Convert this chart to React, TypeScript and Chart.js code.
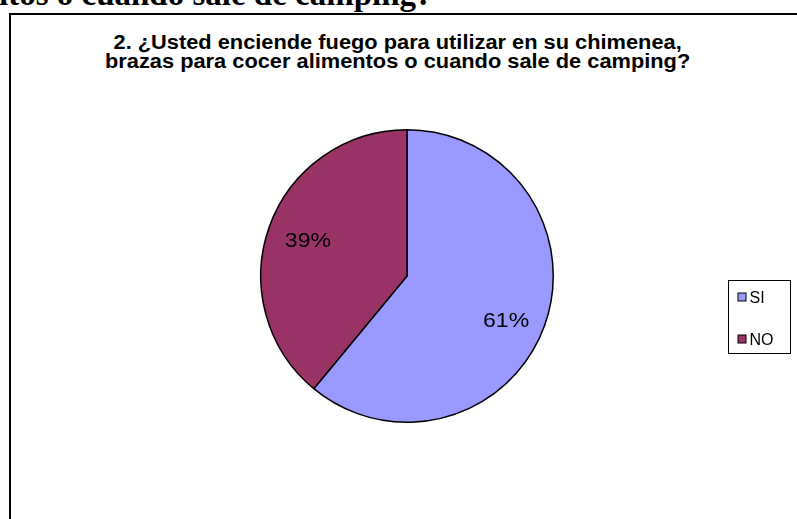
import React, { useEffect, useRef } from "react";
import { Chart, registerables } from "chart.js";

Chart.register(...registerables);

const categories = ["SI", "NO"];
const values = [61, 39];
const percentLabels = ["61%", "39%"];
const sliceColors = ["#9999FF", "#993366"];
const titleLines = [
  "2. ¿Usted enciende fuego para utilizar en su chimenea,",
  "brazas para cocer alimentos o cuando sale de camping?",
];
const headingText = "itos o cuando sale de camping?";

const pctPlugin = {
  id: "pctLabels",
  afterDatasetsDraw(chart: any) {
    const ctx = chart.ctx;
    const meta = chart.getDatasetMeta(0);
    ctx.save();
    ctx.font = "21px 'Liberation Sans', Arial, sans-serif";
    ctx.fillStyle = "#000";
    ctx.textAlign = "center";
    ctx.textBaseline = "middle";
    meta.data.forEach((arc: any, i: number) => {
      const p = arc.getProps(["x", "y", "startAngle", "endAngle", "outerRadius"], true);
      const mid = (p.startAngle + p.endAngle) / 2;
      const r = p.outerRadius * 0.72;
      const lx = p.x + Math.cos(mid) * r;
      const ly = p.y + Math.sin(mid) * r + (Math.sin(mid) > 0 ? 10 : 1);
      ctx.save();
      ctx.translate(lx, ly);
      ctx.scale(1.1, 1);
      ctx.fillText(percentLabels[i], 0, 0);
      ctx.restore();
    });
    ctx.restore();
  },
};

const legendPlugin = {
  id: "boxLegend",
  afterDraw(chart: any) {
    const ctx = chart.ctx;
    const ds = chart.data.datasets[0];
    const left = 728.5;
    const top = 280.5;
    const w = 62;
    const h = 73;
    ctx.save();
    ctx.fillStyle = "#fff";
    ctx.fillRect(left, top, w, h);
    ctx.strokeStyle = "#000";
    ctx.lineWidth = 1;
    ctx.strokeRect(left, top, w, h);
    ctx.font = "16px 'Liberation Sans', Arial, sans-serif";
    ctx.textBaseline = "middle";
    ctx.textAlign = "left";
    (chart.data.labels as string[]).forEach((lab, i) => {
      const cy = top + 17 + i * 42;
      ctx.fillStyle = ds.backgroundColor[i];
      ctx.fillRect(left + 9.5, cy - 4.5, 8, 8);
      ctx.strokeStyle = "#000";
      ctx.strokeRect(left + 9.5, cy - 4.5, 8, 8);
      ctx.fillStyle = "#000";
      ctx.fillText(lab, left + 21, cy + 1);
    });
    ctx.restore();
  },
};

export default function App() {
  const ref = useRef<HTMLCanvasElement>(null);
  useEffect(() => {
    if (!ref.current) return;
    const chart = new Chart(ref.current, {
      type: "pie",
      data: {
        labels: categories,
        datasets: [
          {
            data: values,
            backgroundColor: sliceColors,
            borderColor: "#000",
            borderWidth: 1.5,
          },
        ],
      },
      options: {
        responsive: false,
        animation: false,
        layout: { padding: { top: 129, bottom: 96, left: 260, right: 243 } },
        plugins: {
          legend: { display: false },
          tooltip: { enabled: false },
          title: { display: false },
        },
      },
      plugins: [pctPlugin, legendPlugin],
    });
    return () => chart.destroy();
  }, []);

  return (
    <div
      style={{
        position: "fixed",
        left: 0,
        top: 0,
        width: 797,
        height: 519,
        overflow: "hidden",
        background: "#fff",
      }}
    >
      <div
        style={{
          position: "absolute",
          left: -1,
          top: -22,
          fontFamily: "'Liberation Serif', 'Times New Roman', serif",
          fontWeight: "bold",
          fontSize: 33,
          lineHeight: "33px",
          whiteSpace: "nowrap",
          color: "#000",
        }}
      >
        {headingText}
      </div>
      <div
        style={{
          position: "absolute",
          left: 9,
          top: 13,
          width: 800,
          height: 520,
          border: "2px solid #000",
          boxSizing: "border-box",
        }}
      />
      <div
        style={{
          position: "absolute",
          left: 10,
          top: 33,
          width: 777,
          textAlign: "center",
          fontFamily: "'Liberation Sans', Arial, sans-serif",
          fontWeight: "bold",
          fontSize: 20,
          lineHeight: "19px",
          color: "#000",
          transform: "scaleX(1.09)",
          transformOrigin: "398px 0",
        }}
      >
        {titleLines.map((t, i) => (
          <div key={i}>{t}</div>
        ))}
      </div>
      <canvas
        ref={ref}
        width={797}
        height={519}
        style={{ position: "absolute", left: 0, top: 0, width: 797, height: 519 }}
      />
    </div>
  );
}
